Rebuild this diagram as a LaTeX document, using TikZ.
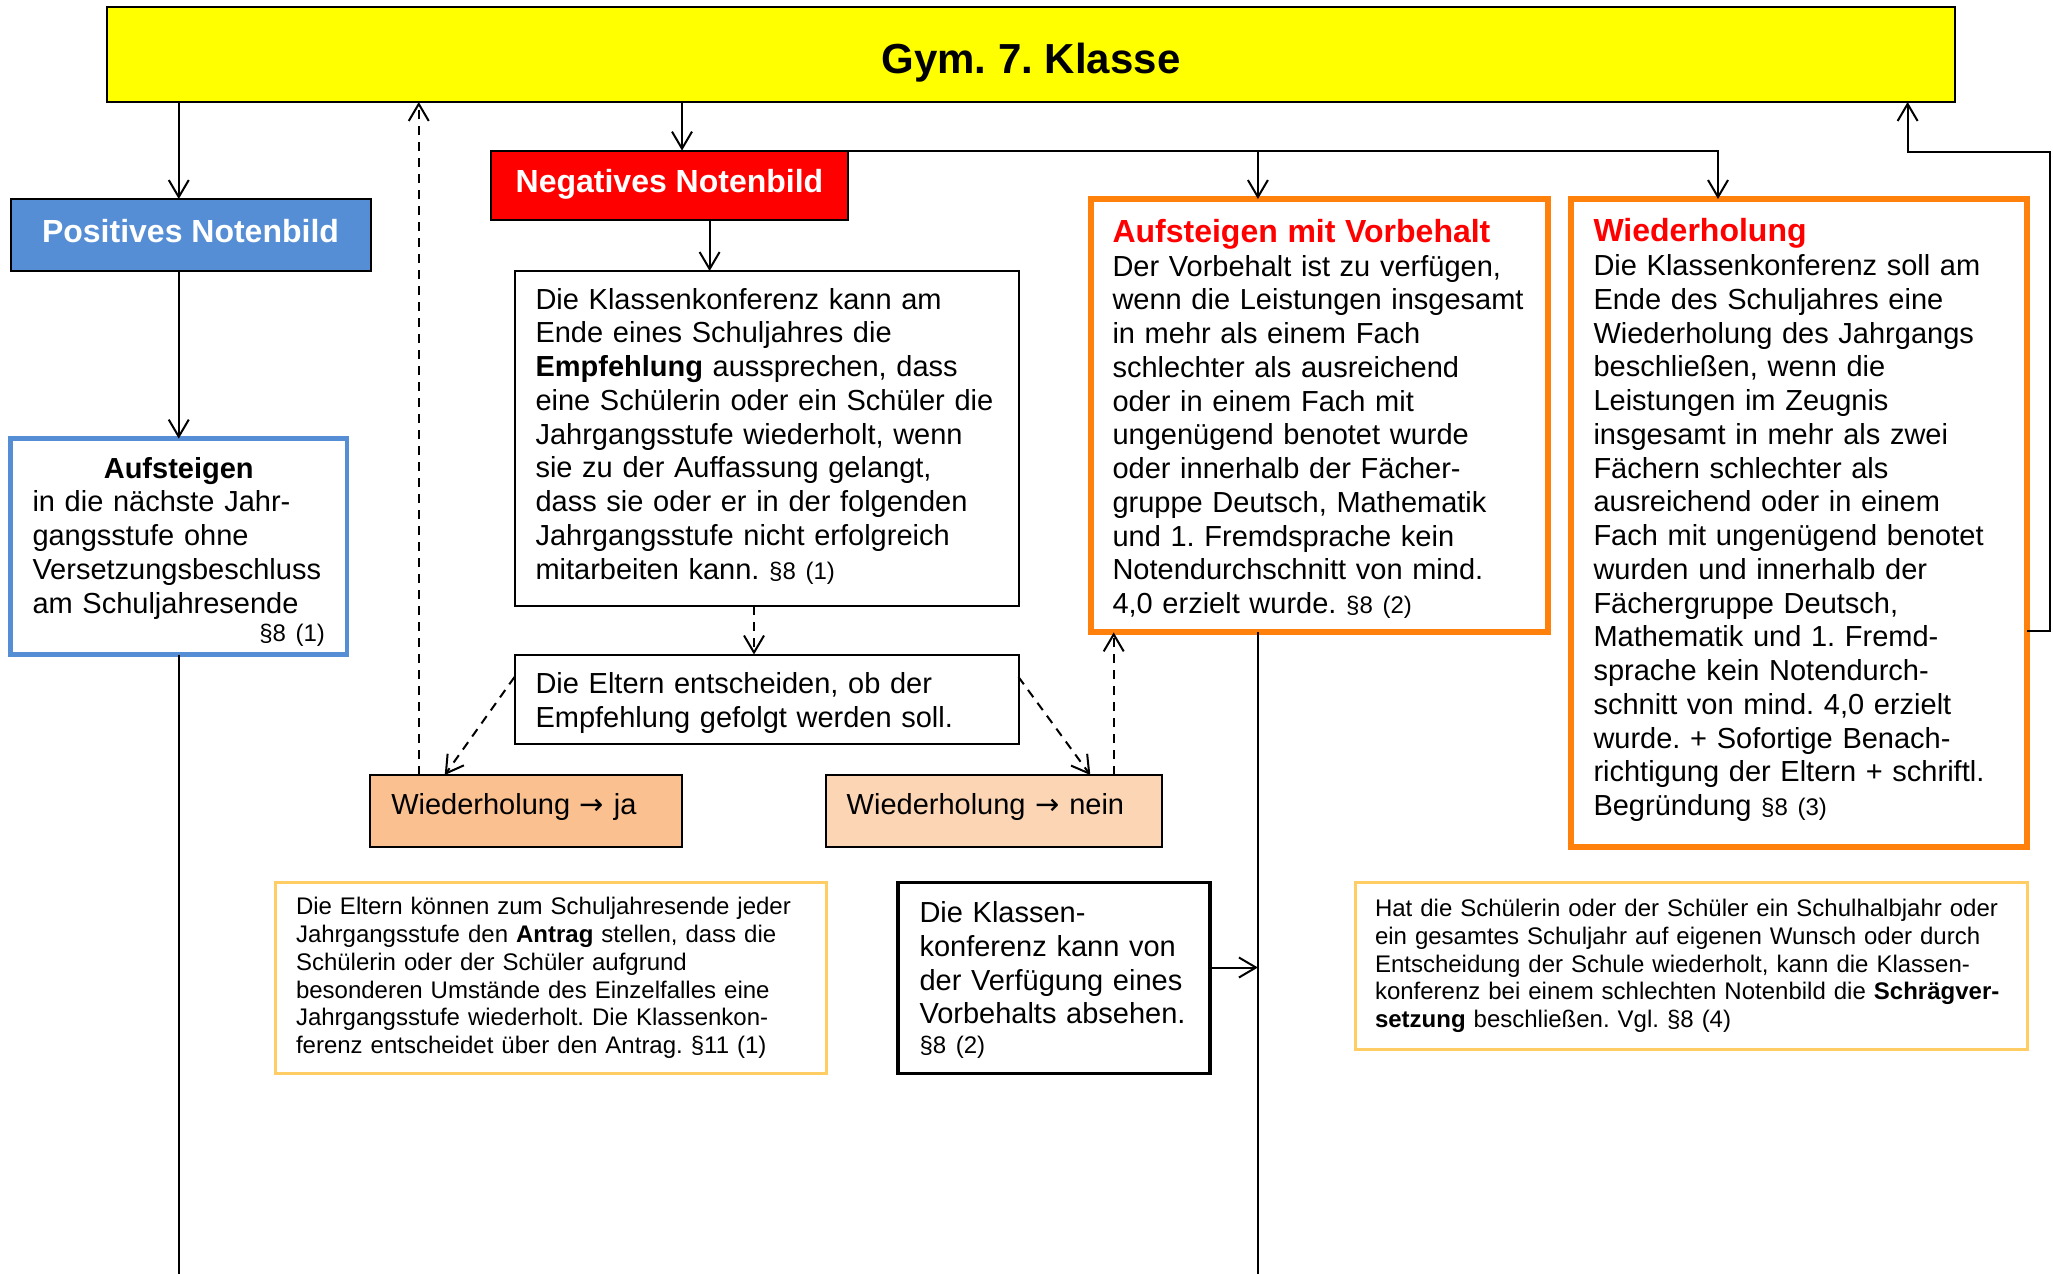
\documentclass[tikz,border=0pt]{standalone}
\usepackage{fontspec}
\setmainfont{Liberation Sans}
\newfontfamily\arrowfont{DejaVu Sans}
\usetikzlibrary{arrows.meta,calc}
\definecolor{tyellow}{RGB}{255,255,0}
\definecolor{pblue}{RGB}{85,142,213}
\definecolor{nred}{RGB}{255,0,0}
\definecolor{vorange}{RGB}{255,128,10}
\definecolor{jafill}{RGB}{250,192,144}
\definecolor{neinfill}{RGB}{252,213,181}
\definecolor{goldline}{RGB}{255,205,100}
\newcommand\myBody{\fontsize{29.0}{33.75}\selectfont}
\newcommand\mySmall{\fontsize{24}{27.75}\selectfont}
\newcommand\myHead{\fontsize{32}{36}\selectfont\bfseries}
\newcommand\myTitle{\fontsize{42}{48}\selectfont\bfseries}
\newcommand\myPar[1]{{\mySmall #1}}
\newcommand\myRS{\rightskip=0pt plus 1fil minus 40pt\relax}
\newcommand\myArr{{\arrowfont →}}
\begin{document}
\hyphenpenalty=10000 \exhyphenpenalty=10000 \frenchspacing
\begin{tikzpicture}[x=1pt,y=-1pt,
  box/.style={draw=black, line width=2pt, outer sep=0pt, inner ysep=0pt, align=left, font=\myBody},
  arr/.style={line width=2pt, -{Straight Barb[length=17pt,width=20pt,line width=2pt]}},
  dasharr/.style={arr, dash pattern=on 9pt off 7pt},
  plain/.style={line width=2pt}]
\useasboundingbox (0,0) rectangle (2053,1274);
\fill[white] (0,0) rectangle (2053,1274);
% boxes
\node[box, fill=tyellow, minimum width=1848pt, minimum height=95.5pt, font=\myTitle, align=center, text height=48pt] (title) at (1031,54.25) {Gym. 7. Klasse};
\node[box, fill=pblue, minimum width=360pt, minimum height=72pt, font=\myHead, text=white, align=center, text depth=9pt] (pos) at (190.5,235) {Positives Notenbild};
\node[box, fill=nred, minimum width=357pt, minimum height=69.4pt, font=\myHead, text=white, align=center, text depth=9pt] (neg) at (669.5,185.3) {Negatives Notenbild};
\node[box, text width=462pt, inner xsep=21pt, minimum height=335pt, text height=16pt] (kk) at (766.5,438.5) {\myRS Die Klassenkonferenz kann am\\ Ende eines Schuljahres die\\ \textbf{Empfehlung} aussprechen, dass\\ eine Schülerin oder ein Schüler die\\ Jahrgangsstufe wiederholt, wenn\\ sie zu der Auffassung gelangt,\\ dass sie oder er in der folgenden\\ Jahrgangsstufe nicht erfolgreich\\ mitarbeiten kann. \myPar{§8 (1)}};
\node[box, text width=462pt, inner xsep=21pt, minimum height=89pt, text height=29pt] (eltern) at (766.5,699) {\myRS Die Eltern entscheiden, ob der\\ Empfehlung gefolgt werden soll.};
\node[box, fill=jafill, text width=269.5pt, inner xsep=21pt, minimum height=72pt, text depth=15pt] (ja) at (526,811) {\myRS Wiederholung \myArr{} ja};
\node[box, fill=neinfill, text width=294.6pt, inner xsep=21pt, minimum height=72pt, text depth=15pt] (nein) at (994,811) {\myRS Wiederholung \myArr{} nein};
\node[box, draw=pblue, line width=4.5pt, text width=292.5pt, inner xsep=22pt, minimum height=216pt, text height=31.7pt] (aufst) at (178.75,546.6) {\myRS\makebox[\linewidth]{\textbf{Aufsteigen}}\\ in die nächste Jahr-\\ gangsstufe ohne\\ Versetzungsbeschluss\\ am Schuljahresende\\[-5pt] \hspace*{0pt plus 1filll}\myPar{§8 (1)}};
\node[box, draw=vorange, line width=6pt, text width=413pt, inner xsep=22pt, minimum height=433.4pt, text height=29.4pt] (amv) at (1319,415.7) {\myRS{\myHead\color{nred}Aufsteigen mit Vorbehalt}\\ Der Vorbehalt ist zu verfügen,\\ wenn die Leistungen insgesamt\\ in mehr als einem Fach\\ schlechter als ausreichend\\ oder in einem Fach mit\\ ungenügend benotet wurde\\ oder innerhalb der Fächer-\\ gruppe Deutsch, Mathematik\\ und 1. Fremdsprache kein\\ Notendurchschnitt von mind.\\ 4,0 erzielt wurde. \myPar{§8 (2)}};
\node[box, draw=vorange, line width=6pt, text width=411pt, inner xsep=22.5pt, minimum height=648pt, text height=17.6pt] (wdh) at (1799,523) {\myRS{\myHead\color{nred}Wiederholung}\\ Die Klassenkonferenz soll am\\ Ende des Schuljahres eine\\ Wiederholung des Jahrgangs\\ beschließen, wenn die\\ Leistungen im Zeugnis\\ insgesamt in mehr als zwei\\ Fächern schlechter als\\ ausreichend oder in einem\\ Fach mit ungenügend benotet\\ wurden und innerhalb der\\ Fächergruppe Deutsch,\\ Mathematik und 1. Fremd-\\ sprache kein Notendurch-\\ schnitt von mind. 4,0 erzielt\\ wurde. + Sofortige Benach-\\ richtigung der Eltern + schriftl.\\ Begründung \myPar{§8 (3)}};
\node[box, draw=goldline, line width=3pt, text width=509pt, inner xsep=21pt, minimum height=191pt, font=\mySmall] (ek) at (550.5,978) {\myRS Die Eltern können zum Schuljahresende jeder\\ Jahrgangsstufe den \textbf{Antrag} stellen, dass die\\ Schülerin oder der Schüler aufgrund\\ besonderen Umstände des Einzelfalles eine\\ Jahrgangsstufe wiederholt. Die Klassenkon-\\ ferenz entscheidet über den Antrag. §11 (1)};
\node[box, line width=3.5pt, text width=269pt, inner xsep=21.4pt, minimum height=191pt, text height=25pt] (kvon) at (1054,978) {\myRS Die Klassen-\\ konferenz kann von\\ der Verfügung eines\\ Vorbehalts absehen.\\[-4pt] \myPar{§8 (2)}};
\node[box, draw=goldline, line width=3pt, text width=632pt, inner xsep=20pt, minimum height=167.5pt, font=\mySmall] (schr) at (1691,966) {\myRS Hat die Schülerin oder der Schüler ein Schulhalbjahr oder\\ ein gesamtes Schuljahr auf eigenen Wunsch oder durch\\ Entscheidung der Schule wiederholt, kann die Klassen-\\ konferenz bei einem schlechten Notenbild die \textbf{Schrägver-}\\ \textbf{setzung} beschließen. Vgl. §8 (4)};
% coordinates
\coordinate (bot) at (0,1274);
\coordinate (negx) at ([xshift=191pt]neg.north west);
\coordinate (negout) at ([xshift=218.6pt]neg.south west);
\coordinate (kkout) at ([xshift=239.5pt]kk.south west);
\coordinate (jaup) at ([xshift=48.5pt]ja.north west);
\coordinate (jain) at ([xshift=74.5pt]ja.north west);
\coordinate (neinin) at ([xshift=264.6pt]nein.north west);
\coordinate (neinup) at ([xshift=288pt]nein.north west);
\coordinate (elL) at ([yshift=22pt]eltern.west);
\coordinate (elR) at ([yshift=22pt]eltern.east);
\coordinate (amvx) at ([xshift=167.4pt]amv.north west);
\coordinate (wdhx) at ([xshift=147pt]wdh.north west);
\coordinate (kvonout) at ([yshift=10.5pt]kvon.east);
\coordinate (wdhout) at ([yshift=-108pt]wdh.east);
\coordinate (titlein) at ([xshift=-47.4pt]title.south east);
% connectors
\draw[arr] (title.south -| aufst.north) -- (pos.north -| aufst.north);
\draw[arr] (pos.south -| aufst.north) -- (aufst.north);
\draw[plain] (aufst.south) -- (aufst.south |- bot);
\draw[arr] (negx |- title.south) -- (negx);
\draw[arr] (negout) -- (negout |- kk.north);
\draw[dasharr] (kkout) -- (kkout |- eltern.north);
\draw[dasharr] (elL) -- (jain);
\draw[dasharr] (elR) -- (neinin);
\draw[dasharr] (jaup) -- (jaup |- title.south);
\draw[dasharr] (neinup) -- (neinup |- amv.south);
\draw[arr] (neg.north east) -| (wdhx);
\draw[arr] (amvx |- neg.north) -- (amvx);
\draw[plain] (amvx |- amv.south) -- (amvx |- bot);
\draw[arr] (kvonout) -- (kvonout -| amvx);
\draw[arr] (wdhout) -| ++(23,-479) -| (titlein);
\end{tikzpicture}
\end{document}
